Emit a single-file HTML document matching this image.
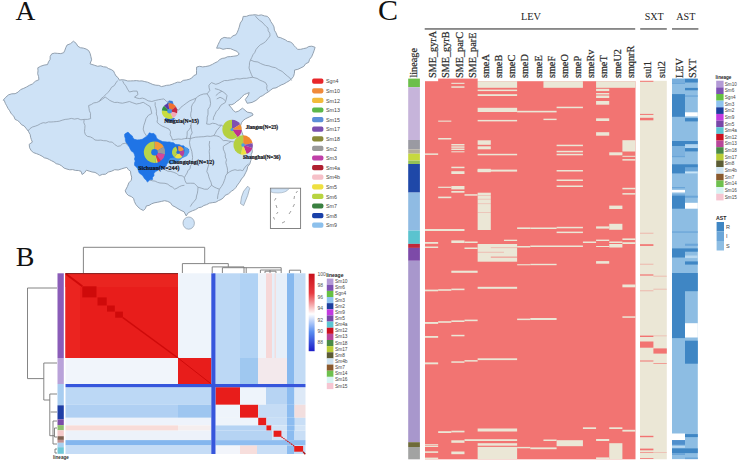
<!DOCTYPE html>
<html><head><meta charset="utf-8"><style>
html,body{margin:0;padding:0;background:#fff;width:738px;height:463px;overflow:hidden}
svg{display:block}
</style></head><body>
<svg width="738" height="463" viewBox="0 0 738 463">
<rect width="738" height="463" fill="#fff"/>
<g id="a">
<polygon points="3.2,100.2 5.7,97.3 8.6,94.8 11.8,93.8 15.1,93.7 18.1,92.1 20.6,89.6 23.8,88.3 26.7,86.9 29.4,85.3 32.4,84.0 35.3,81.3 38.9,79.7 38.6,76.7 37.7,73.8 38.0,70.8 37.8,67.8 40.8,66.2 44.1,65.1 47.5,64.6 48.5,61.9 50.1,59.4 50.2,56.3 51.8,53.8 54.7,53.1 57.8,53.4 60.8,53.6 63.7,52.7 64.9,50.2 65.8,47.6 67.0,45.1 70.5,43.7 73.4,41.2 76.1,43.3 77.8,46.2 80.3,47.7 83.3,48.1 86.1,49.0 88.6,50.5 90.1,53.4 90.9,56.6 91.6,59.8 90.0,63.8 94.9,65.4 97.7,66.3 100.7,65.8 103.4,66.8 106.3,67.1 108.6,68.6 111.3,69.6 113.6,71.1 114.7,73.6 116.0,76.0 118.1,77.7 119.3,80.1 122.2,79.7 125.0,80.1 127.8,81.0 130.7,80.9 133.5,80.8 136.3,80.6 139.2,81.0 142.0,80.9 144.8,81.6 147.5,82.2 150.2,83.3 152.9,84.5 155.8,85.2 158.8,85.4 161.5,86.6 164.1,86.0 166.7,85.3 169.5,85.1 172.1,84.3 174.6,83.3 177.4,82.2 180.6,82.3 183.2,80.4 186.2,80.0 189.2,79.3 191.8,78.0 193.8,75.6 196.5,74.4 196.5,70.7 196.6,67.1 199.6,66.3 202.7,66.9 205.8,66.5 209.2,65.8 212.3,64.4 214.9,62.9 217.6,61.6 219.8,59.5 222.2,58.4 225.0,58.0 227.4,56.8 230.6,56.6 233.9,56.2 237.1,55.7 239.2,54.1 237.1,51.4 233.8,50.1 230.6,48.7 226.8,48.5 223.0,49.3 219.9,48.1 216.6,48.2 218.2,44.4 219.5,41.7 220.9,39.0 224.1,37.4 227.3,37.9 230.6,38.0 233.0,35.8 236.0,34.7 237.3,32.3 238.3,29.8 239.2,27.2 240.3,23.0 242.4,20.0 243.2,16.4 246.3,16.4 249.2,15.3 252.3,15.0 255.3,14.7 258.3,15.4 261.4,14.9 264.4,15.9 267.4,16.4 269.5,18.7 270.8,21.6 272.6,24.2 274.0,26.9 274.4,30.2 276.0,32.8 277.7,37.1 280.4,37.6 282.8,38.7 285.3,39.8 287.5,41.4 290.2,41.9 292.5,43.4 294.0,45.6 295.9,47.6 297.8,49.4 300.7,49.3 303.5,48.6 306.3,48.0 308.9,46.5 311.8,46.2 315.1,47.3 314.1,50.6 312.9,53.8 311.6,56.8 309.6,59.3 308.6,62.4 305.7,63.7 303.8,66.4 301.0,67.8 297.9,69.3 294.6,70.0 294.4,73.3 293.5,76.4 291.6,78.9 289.2,80.8 286.5,82.4 283.8,84.0 281.1,85.0 278.5,86.5 276.0,87.9 273.0,88.3 270.5,90.2 268.0,92.1 265.3,93.7 262.8,95.6 260.2,96.7 258.1,98.6 256.0,100.4 252.1,102.4 247.2,103.3 245.3,99.5 248.2,95.6 249.2,92.6 246.7,93.6 244.3,94.6 241.8,96.9 239.5,99.5 236.9,101.2 234.6,103.3 231.9,104.7 228.8,104.8 231.7,108.2 233.3,110.5 235.6,112.1 238.5,111.1 242.4,108.2 243.8,109.2 247.2,112.1 252.1,113.1 253.1,115.0 249.2,117.0 245.3,118.9 243.1,120.6 241.4,122.8 240.7,125.4 240.9,129.3 242.2,132.9 243.3,136.1 245.2,139.0 247.6,140.9 249.8,142.9 252.0,145.0 252.0,149.0 252.3,151.9 251.2,154.7 251.7,157.7 250.8,160.5 249.8,163.9 247.7,166.7 247.0,169.9 245.6,172.8 243.9,176.2 241.5,179.0 239.6,182.2 237.4,185.1 235.8,187.6 233.8,189.7 231.3,191.3 228.5,193.8 225.1,195.4 223.4,197.8 221.0,199.5 218.3,200.7 215.8,202.2 212.8,202.6 209.6,203.1 206.7,204.6 203.9,205.5 201.4,207.1 198.5,207.7 195.6,209.6 192.3,210.8 188.2,212.8 186.2,215.9 184.1,211.8 181.0,210.4 178.0,208.7 175.1,206.9 172.3,205.5 170.5,202.8 167.7,201.4 164.6,200.7 161.5,201.4 157.8,202.2 154.0,202.9 151.5,203.9 149.1,205.4 146.4,205.9 145.4,208.5 143.4,210.5 140.4,209.0 137.9,206.9 135.8,204.4 134.4,201.5 133.6,198.4 131.2,196.5 128.3,195.4 126.4,193.4 125.2,190.8 127.5,186.3 128.8,182.9 131.3,180.2 131.7,177.1 130.8,174.2 130.5,171.2 128.3,169.6 126.8,167.4 124.1,168.1 121.5,168.9 118.2,170.0 114.7,169.7 111.6,171.2 108.3,172.1 105.6,174.2 102.4,174.4 99.4,175.6 97.4,173.8 95.0,172.4 92.1,172.0 89.2,171.1 86.4,170.2 84.6,172.7 82.1,174.5 81.0,171.3 78.3,170.5 75.4,170.4 72.7,169.6 69.8,169.8 67.0,169.1 64.1,168.1 61.8,166.0 59.2,164.4 56.2,163.7 54.1,162.0 51.7,160.8 49.4,159.6 47.0,158.4 44.3,157.8 42.1,156.2 39.4,154.8 36.6,153.7 33.7,152.7 31.3,150.8 29.6,147.8 29.2,144.3 32.4,142.1 31.4,139.7 30.6,137.2 30.2,134.6 28.3,131.2 25.9,128.1 24.1,125.9 21.5,124.7 19.8,122.4 17.7,120.6 15.1,119.4 13.8,116.2 11.3,113.8 9.7,110.8 8.0,108.4 6.7,105.8 5.3,103.3 4.3,100.5 3.2,100.2" fill="#cee2f6" stroke="#8e9cab" stroke-width="0.95" stroke-linejoin="round"/>
<polygon points="124.7,134.1 128.0,132.1 130.6,134.7 132.3,135.9 133.0,137.9 134.5,139.3 137.1,139.9 139.6,139.8 142.2,139.3 144.1,138.0 146.1,136.7 147.9,134.9 149.4,132.8 151.6,133.6 153.9,133.4 155.8,135.4 156.5,138.0 158.3,139.5 160.4,140.6 162.6,141.6 164.9,141.7 167.2,142.0 169.5,141.9 171.5,142.5 173.6,142.7 175.2,144.3 177.3,144.5 179.5,144.7 181.5,145.8 183.7,145.8 185.0,147.7 187.3,148.2 188.9,149.6 188.3,152.9 186.1,154.0 183.7,154.8 181.4,155.5 179.9,157.4 177.2,157.5 174.8,158.8 172.1,158.7 169.5,161.3 166.9,163.9 166.1,166.2 164.3,167.8 162.3,169.2 159.7,168.9 157.8,170.4 155.5,171.6 153.9,173.6 154.0,175.7 152.5,177.4 152.6,179.5 149.7,180.1 147.4,182.1 146.3,180.2 144.6,178.8 143.5,176.9 142.3,175.2 140.4,174.0 139.0,172.5 138.3,170.4 137.6,168.2 136.0,166.8 134.5,165.2 134.5,163.1 135.2,161.0 134.4,159.0 135.1,156.9 134.5,154.8 133.6,152.6 131.5,151.2 130.3,149.2 129.3,147.0 127.7,145.0 126.3,142.9 125.4,140.6 125.3,138.4 124.6,136.3 124.7,134.1" fill="#1f74e6" stroke="#1f74e6" stroke-width="0.6"/>
<polygon points="183.8,146.1 187.8,148.6 189.5,151.8 187,155.9 182.2,158.3 177.3,162.4 170.8,164.5 167.5,162.4 170,158.3 174,157.5 180.5,156.7 183.8,154.3 184.6,150.2" fill="#4b98e6"/>
<polygon points="166.5,104 169,100.5 172.5,101 173.5,104" fill="#3a78d8"/><polygon points="165,118 175,118 173,121.5 166,121.5" fill="#3a78d8"/>
<polyline points="117.7,80.5 115.9,82.9 114.3,85.6 111.5,87.3 110.0,90.0 108.0,92.4 105.8,94.6 103.6,96.7 101.1,98.7 99.4,101.3 96.7,102.5 93.8,102.9 91.3,104.5 88.6,105.6 89.0,108.2 89.4,110.8 90.5,113.3 90.4,116.0 90.7,118.6 87.5,119.4 84.2,119.4 80.9,119.8 77.8,118.5 74.5,119.1 71.3,118.4 68.3,119.1 65.2,119.4 62.2,120.2 59.3,121.2 56.2,121.6 53.6,121.8 51.0,122.0 48.4,121.9 45.8,123.0 43.2,122.7 40.5,123.7 37.9,125.2 35.2,126.2 32.4,127.0 29.9,128.7 28.0,131.0" fill="none" stroke="#8e9cab" stroke-width="0.8" stroke-linejoin="round"/>
<polyline points="99.4,101.3 102.3,99.2 105.2,97.1 107.5,98.6 109.6,100.3 112.1,101.5 114.6,102.5 117.3,102.3 119.9,102.9 122.5,103.2 126.0,102.4 129.4,101.5 132.8,102.8 136.3,104.0 139.8,103.4 143.2,102.3 145.5,103.7 147.8,105.2 150.1,106.6 151.0,110.0 151.8,113.5 148.4,115.3 146.1,118.4 145.0,122.0 143.8,125.5 143.2,129.1 144.4,132.8 146.6,136.0" fill="none" stroke="#8e9cab" stroke-width="0.8" stroke-linejoin="round"/>
<polyline points="84.2,119.4 83.8,122.5 85.0,125.5 84.8,128.5 84.5,131.6 85.3,134.6 87.5,136.4 90.4,136.9 92.8,138.2 95.0,140.0 97.9,140.3 100.8,140.1 103.7,140.7 106.6,140.8 109.4,142.0 112.3,142.1 114.8,144.6 117.7,146.4 120.4,145.8 122.6,143.8 125.3,143.2 127.8,144.6" fill="none" stroke="#8e9cab" stroke-width="0.8" stroke-linejoin="round"/>
<polyline points="122.5,80.7 123.9,83.5 125.9,85.9 127.5,89.1 129.4,92.0 133.2,91.1 137.1,91.1 138.0,94.5 134.5,97.1 137.0,98.1 139.6,98.6 142.4,98.1 144.9,98.9 148.1,100.8 151.8,101.5 155.2,100.5 158.7,99.7 161.3,99.3 163.9,98.9 166.6,101.5 170.0,103.0 172.2,105.8 175.0,108.0 178.6,110.2 180.9,107.3 183.8,105.1 186.8,102.8 189.9,100.7 192.9,99.5 195.9,98.2 197.9,96.5 200.2,95.1 203.6,94.0 207.2,93.8 209.8,90.4 209.1,87.8 208.9,85.2 211.5,82.6 215.8,84.3 219.0,83.3 221.9,81.7 224.5,80.5 227.3,80.6 230.0,80.0 233.3,79.6 236.6,78.7 240.0,79.0 243.1,78.3 246.4,78.3 249.5,77.7 252.7,77.3" fill="none" stroke="#8e9cab" stroke-width="0.8" stroke-linejoin="round"/>
<polyline points="195.9,98.2 194.7,101.5 192.5,104.2 191.4,107.1 191.6,110.2 190.8,113.2 190.7,116.3 192.5,120.0 191.2,123.0 191.1,126.3 189.6,129.2 187.2,131.5 187.1,135.3 186.4,139.0" fill="none" stroke="#8e9cab" stroke-width="0.8" stroke-linejoin="round"/>
<polyline points="207.2,93.8 209.8,98.2 210.6,103.3 209.9,106.6 208.0,109.4 208.0,114.6 207.2,117.2 207.2,120.0 206.6,124.0" fill="none" stroke="#8e9cab" stroke-width="0.8" stroke-linejoin="round"/>
<polyline points="214.9,88.6 218.5,89.6 221.9,91.2 224.8,93.0 227.0,95.6 226.3,99.1 225.3,102.5 221.0,105.1 218.4,109.4 216.2,111.7 214.9,114.6 213.6,117.2 213.2,120.0" fill="none" stroke="#8e9cab" stroke-width="0.8" stroke-linejoin="round"/>
<polyline points="215.8,95.6 218.7,93.1 221.9,91.2" fill="none" stroke="#8e9cab" stroke-width="0.8" stroke-linejoin="round"/>
<polyline points="216.7,99.0 220.0,97.3 222.9,98.6 225.3,100.7" fill="none" stroke="#8e9cab" stroke-width="0.8" stroke-linejoin="round"/>
<polyline points="155.2,102.2 155.1,105.3 156.0,108.3 156.5,111.3 156.3,114.0 157.3,116.7 157.5,119.4 157.0,122.2 159.3,124.3 162.0,126.0 165.6,127.5 169.1,129.1 170.5,131.6 170.2,134.7 171.5,137.3 172.5,140.0" fill="none" stroke="#8e9cab" stroke-width="0.8" stroke-linejoin="round"/>
<polyline points="206.6,124.0 209.6,124.3 212.6,123.2 215.7,123.7 218.4,125.2 221.6,125.2 224.1,127.3 227.2,127.8 230.0,128.9" fill="none" stroke="#8e9cab" stroke-width="0.8" stroke-linejoin="round"/>
<polyline points="190.3,125.0 191.2,127.5 191.5,130.2 192.2,132.8 190.7,135.5 190.3,138.6" fill="none" stroke="#8e9cab" stroke-width="0.8" stroke-linejoin="round"/>
<polyline points="172.5,140.0 175.4,139.4 178.4,139.0 181.4,139.3 184.3,138.7 187.3,138.3 190.3,138.6 193.0,137.8 195.7,137.2 198.4,137.0 201.1,136.8 203.9,136.7 207.1,136.1 210.4,136.4 213.6,135.7 216.5,135.9 219.4,136.7 221.3,138.7 223.3,140.6 226.0,140.5 228.5,141.0 231.1,141.5 234.1,142.0 236.7,143.4 239.5,144.2 242.0,146.0" fill="none" stroke="#8e9cab" stroke-width="0.8" stroke-linejoin="round"/>
<polyline points="213.6,135.7 215.3,133.4 216.5,130.8 219.0,127.9 221.4,125.0" fill="none" stroke="#8e9cab" stroke-width="0.8" stroke-linejoin="round"/>
<polyline points="192.2,154.2 192.6,157.4 192.2,160.7 192.2,163.9 190.4,165.9 190.1,168.7 187.9,170.5 187.1,173.0 185.7,175.2 184.4,177.5 185.0,180.6 186.4,183.3 190.3,183.2 194.2,183.3 196.1,185.3 198.0,187.2 201.2,188.1 204.4,189.2 207.8,189.2 209.6,187.1 211.7,185.3 214.1,187.0 216.7,188.2 219.4,189.2 221.5,186.4 223.3,183.3 224.2,180.8 225.1,178.4 225.6,175.8 227.2,173.6 229.6,171.8 232.1,170.5 235.0,169.7 237.6,170.4 240.2,170.0 242.8,170.7 244.4,168.1 246.2,165.8 248.6,163.9" fill="none" stroke="#8e9cab" stroke-width="0.8" stroke-linejoin="round"/>
<polyline points="209.7,141.0 209.2,144.7 209.7,148.3 209.2,151.5 209.5,154.8 209.7,158.0 209.4,160.8 208.9,163.6 208.2,166.3 207.4,169.0 206.8,171.7 208.2,174.1 208.8,176.8 209.7,179.4 211.0,182.2 211.7,185.3" fill="none" stroke="#8e9cab" stroke-width="0.8" stroke-linejoin="round"/>
<polyline points="227.2,173.6 227.6,170.8 227.3,168.0 226.5,165.3 225.8,162.5 226.5,159.7 225.3,157.0 225.3,154.2 224.4,151.6 223.3,149.2 223.3,146.4 225.8,144.6 228.5,143.1 231.1,141.5" fill="none" stroke="#8e9cab" stroke-width="0.8" stroke-linejoin="round"/>
<polyline points="150.0,180.0 152.5,180.8 155.1,181.1 157.5,182.3 160.0,183.0 165.0,183.3 167.8,184.2 170.0,186.0 172.6,187.2 174.7,189.2 177.1,188.1 179.3,186.7 181.7,185.7 184.4,185.3" fill="none" stroke="#8e9cab" stroke-width="0.8" stroke-linejoin="round"/>
<polyline points="198.0,187.2 197.8,190.2 197.4,193.1 196.5,196.0 196.1,198.9 194.1,201.4 192.0,203.8 190.3,206.6" fill="none" stroke="#8e9cab" stroke-width="0.8" stroke-linejoin="round"/>
<polyline points="219.4,189.2 218.6,192.4 217.8,195.6 217.5,198.9" fill="none" stroke="#8e9cab" stroke-width="0.8" stroke-linejoin="round"/>
<polyline points="165.0,169.7 167.8,171.2 170.9,171.5 173.9,172.4 176.7,173.6 179.0,175.5 182.1,175.8 184.4,177.5" fill="none" stroke="#8e9cab" stroke-width="0.8" stroke-linejoin="round"/>
<polyline points="192.2,154.2 191.8,151.4 190.9,148.7 190.0,146.0 189.5,142.3 190.3,138.6" fill="none" stroke="#8e9cab" stroke-width="0.8" stroke-linejoin="round"/>
<polyline points="255.0,15.5 257.0,18.0 259.3,20.2 262.0,22.0 263.9,24.1 265.8,26.2 268.0,28.0 268.2,30.8 269.8,33.2 270.0,36.0 267.8,38.8 265.6,41.6 263.1,43.4 260.3,44.8 258.0,47.0 256.0,49.5 254.8,52.4 253.0,54.7 251.8,57.4 250.5,60.0" fill="none" stroke="#8e9cab" stroke-width="0.8" stroke-linejoin="round"/>
<polyline points="250.5,60.0 254.1,61.5 258.0,62.0 260.4,63.4 263.0,64.5 265.6,65.4 268.9,65.8 272.0,67.0 275.5,67.7 278.6,69.7 282.1,71.4 285.0,74.0 287.3,76.0 289.8,77.9 291.6,80.5" fill="none" stroke="#8e9cab" stroke-width="0.8" stroke-linejoin="round"/>
<polyline points="250.5,60.0 249.5,62.6 249.4,65.3 249.0,68.0 250.1,71.2 251.3,74.3 252.7,77.3" fill="none" stroke="#8e9cab" stroke-width="0.8" stroke-linejoin="round"/>
<polyline points="252.7,77.3 257.0,78.4 259.8,80.1 262.7,81.3 265.6,82.7 267.0,85.4 266.7,88.5 267.8,91.3" fill="none" stroke="#8e9cab" stroke-width="0.8" stroke-linejoin="round"/>
<ellipse cx="188.7" cy="223.1" rx="5.7" ry="6.1" fill="#cee2f6" stroke="#8e9cab" stroke-width="0.7"/>
<polygon points="243.6,191.3 247.7,186.2 249.7,188.2 247.7,195.4 243.6,205.6 240.5,203.6 241.5,197" fill="#cee2f6" stroke="#8e9cab" stroke-width="0.7"/>
<rect x="270.4" y="188.2" width="30.2" height="40.3" fill="#fff" stroke="#777" stroke-width="0.9"/>
<path d="M270.9 188.7 H289 Q286 193 278 193 Q273 193 270.9 192 Z" fill="#cee2f6" stroke="#8e9cab" stroke-width="0.5"/>
<path d="M276 198 l-1.5 2.5" stroke="#888" stroke-width="0.8" fill="none"/>
<path d="M276 205 l1 3" stroke="#888" stroke-width="0.8" fill="none"/>
<path d="M278 212 l-1.5 2" stroke="#888" stroke-width="0.8" fill="none"/>
<path d="M273.5 217 l1 2.5" stroke="#888" stroke-width="0.8" fill="none"/>
<path d="M282 223 l3 -1.5" stroke="#888" stroke-width="0.8" fill="none"/>
<path d="M289 214 l2 -3" stroke="#888" stroke-width="0.8" fill="none"/>
<path d="M293 207 l1.5 -3" stroke="#888" stroke-width="0.8" fill="none"/>
<path d="M294 199 l0.5 -3" stroke="#888" stroke-width="0.8" fill="none"/>
<path d="M296 193 l1.5 -2" stroke="#888" stroke-width="0.8" fill="none"/>
<path d="M154.5 152.2 L154.50 141.50 A10.7 10.7 0 0 1 163.88 147.05 Z" fill="#f39a3a"/>
<path d="M154.5 152.2 L163.88 147.05 A10.7 10.7 0 0 1 165.01 154.20 Z" fill="#9a9a9a"/>
<path d="M154.5 152.2 L165.01 154.20 A10.7 10.7 0 0 1 160.79 160.86 Z" fill="#d4489c"/>
<path d="M154.5 152.2 L160.79 160.86 A10.7 10.7 0 0 1 157.81 162.38 Z" fill="#e83040"/>
<path d="M154.5 152.2 L157.81 162.38 A10.7 10.7 0 0 1 155.84 162.82 Z" fill="#f0e040"/>
<path d="M154.5 152.2 L155.84 162.82 A10.7 10.7 0 1 1 154.50 141.50 Z" fill="#b8d44a"/>
<circle cx="154.5" cy="152.2" r="3.3" fill="#1f74e6"/>
<path d="M178.1 152.2 L178.10 146.10 A6.1 6.1 0 0 1 183.90 150.31 Z" fill="#f39a3a"/>
<path d="M178.1 152.2 L183.90 150.31 A6.1 6.1 0 0 1 182.28 156.65 Z" fill="#b8409c"/>
<path d="M178.1 152.2 L182.28 156.65 A6.1 6.1 0 0 1 174.51 157.14 Z" fill="#f0e040"/>
<path d="M178.1 152.2 L174.51 157.14 A6.1 6.1 0 0 1 176.21 146.40 Z" fill="#b8d44a"/>
<path d="M178.1 152.2 L176.21 146.40 A6.1 6.1 0 0 1 178.10 146.10 Z" fill="#3060c0"/>
<circle cx="178.1" cy="152.2" r="1.7" fill="#2a70d8"/>
<path d="M169.6 111.2 L168.25 103.52 A7.8 7.8 0 0 1 175.99 106.73 Z" fill="#f07030"/>
<path d="M169.6 111.2 L175.99 106.73 A7.8 7.8 0 0 1 177.13 113.22 Z" fill="#c42840"/>
<path d="M169.6 111.2 L177.13 113.22 A7.8 7.8 0 0 1 172.90 118.27 Z" fill="#f2a8b8"/>
<path d="M169.6 111.2 L172.90 118.27 A7.8 7.8 0 0 1 161.83 110.52 Z" fill="#c8dc40"/>
<path d="M169.6 111.2 L161.83 110.52 A7.8 7.8 0 0 1 164.08 105.68 Z" fill="#309040"/>
<path d="M169.6 111.2 L164.08 105.68 A7.8 7.8 0 0 1 168.25 103.52 Z" fill="#5a3aa8"/>
<circle cx="169.6" cy="111.2" r="2.4" fill="#4a90e0"/>
<path d="M232 129.5 L232.00 119.80 A9.7 9.7 0 0 1 240.19 124.30 Z" fill="#8050b0"/>
<path d="M232 129.5 L240.19 124.30 A9.7 9.7 0 0 1 241.68 130.11 Z" fill="#f0902f"/>
<path d="M232 129.5 L241.68 130.11 A9.7 9.7 0 0 1 237.70 137.35 Z" fill="#c03090"/>
<path d="M232 129.5 L237.70 137.35 A9.7 9.7 0 1 1 232.00 119.80 Z" fill="#b5d040"/>
<circle cx="232" cy="129.5" r="1.5" fill="#4aa0e0"/>
<path d="M243.1 145 L243.10 135.30 A9.7 9.7 0 0 1 252.63 143.18 Z" fill="#f08a30"/>
<path d="M243.1 145 L252.63 143.18 A9.7 9.7 0 0 1 252.33 148.00 Z" fill="#8050b0"/>
<path d="M243.1 145 L252.33 148.00 A9.7 9.7 0 0 1 246.67 154.02 Z" fill="#c03090"/>
<path d="M243.1 145 L246.67 154.02 A9.7 9.7 0 0 1 240.69 154.40 Z" fill="#f0e040"/>
<path d="M243.1 145 L240.69 154.40 A9.7 9.7 0 0 1 243.10 135.30 Z" fill="#b5d040"/>
<circle cx="243.1" cy="145" r="1.8" fill="#4aa0e0"/>
<text x="164.3" y="123" font-size="5.5" font-family="Liberation Serif" font-weight="bold" fill="#141420" stroke="#141420" stroke-width="0.22">Ningxia(N=15)</text>
<text x="138.2" y="169.9" font-size="6.0" font-family="Liberation Serif" font-weight="bold" fill="#141420" stroke="#141420" stroke-width="0.22">Sichuan(N=244)</text>
<text x="168.9" y="164" font-size="5.9" font-family="Liberation Serif" font-weight="bold" fill="#141420" stroke="#141420" stroke-width="0.22">Chongqing(N=12)</text>
<text x="245.7" y="128.8" font-size="5.2" font-family="Liberation Serif" font-weight="bold" fill="#141420" stroke="#141420" stroke-width="0.22">Jiangsu(N=23)</text>
<text x="243.1" y="159.2" font-size="5.4" font-family="Liberation Serif" font-weight="bold" fill="#141420" stroke="#141420" stroke-width="0.22">Shanghai(N=36)</text>
<rect x="312.1" y="78.60" width="11.3" height="5.2" rx="1.8" fill="#e8262a"/>
<text x="326" y="83.30" font-size="5.3" font-family="Liberation Sans" fill="#444">Sgn4</text>
<rect x="312.1" y="88.20" width="11.3" height="5.2" rx="1.8" fill="#f08a3a"/>
<text x="326" y="92.90" font-size="5.3" font-family="Liberation Sans" fill="#444">Sm10</text>
<rect x="312.1" y="97.80" width="11.3" height="5.2" rx="1.8" fill="#f2bb3a"/>
<text x="326" y="102.50" font-size="5.3" font-family="Liberation Sans" fill="#444">Sm12</text>
<rect x="312.1" y="107.40" width="11.3" height="5.2" rx="1.8" fill="#5cb84a"/>
<text x="326" y="112.10" font-size="5.3" font-family="Liberation Sans" fill="#444">Sm13</text>
<rect x="312.1" y="117.00" width="11.3" height="5.2" rx="1.8" fill="#5b8fd8"/>
<text x="326" y="121.70" font-size="5.3" font-family="Liberation Sans" fill="#444">Sm15</text>
<rect x="312.1" y="126.60" width="11.3" height="5.2" rx="1.8" fill="#7a4fb0"/>
<text x="326" y="131.30" font-size="5.3" font-family="Liberation Sans" fill="#444">Sm17</text>
<rect x="312.1" y="136.20" width="11.3" height="5.2" rx="1.8" fill="#8a8a3a"/>
<text x="326" y="140.90" font-size="5.3" font-family="Liberation Sans" fill="#444">Sm18</text>
<rect x="312.1" y="145.80" width="11.3" height="5.2" rx="1.8" fill="#9a9a9a"/>
<text x="326" y="150.50" font-size="5.3" font-family="Liberation Sans" fill="#444">Sm2</text>
<rect x="312.1" y="155.40" width="11.3" height="5.2" rx="1.8" fill="#c040a8"/>
<text x="326" y="160.10" font-size="5.3" font-family="Liberation Sans" fill="#444">Sm3</text>
<rect x="312.1" y="165.00" width="11.3" height="5.2" rx="1.8" fill="#b02030"/>
<text x="326" y="169.70" font-size="5.3" font-family="Liberation Sans" fill="#444">Sm4a</text>
<rect x="312.1" y="174.60" width="11.3" height="5.2" rx="1.8" fill="#f6c0c8"/>
<text x="326" y="179.30" font-size="5.3" font-family="Liberation Sans" fill="#444">Sm4b</text>
<rect x="312.1" y="184.20" width="11.3" height="5.2" rx="1.8" fill="#eee040"/>
<text x="326" y="188.90" font-size="5.3" font-family="Liberation Sans" fill="#444">Sm5</text>
<rect x="312.1" y="193.80" width="11.3" height="5.2" rx="1.8" fill="#b8d440"/>
<text x="326" y="198.50" font-size="5.3" font-family="Liberation Sans" fill="#444">Sm6</text>
<rect x="312.1" y="203.40" width="11.3" height="5.2" rx="1.8" fill="#3a8040"/>
<text x="326" y="208.10" font-size="5.3" font-family="Liberation Sans" fill="#444">Sm7</text>
<rect x="312.1" y="213.00" width="11.3" height="5.2" rx="1.8" fill="#1a40a8"/>
<text x="326" y="217.70" font-size="5.3" font-family="Liberation Sans" fill="#444">Sm8</text>
<rect x="312.1" y="222.60" width="11.3" height="5.2" rx="1.8" fill="#8cc0ec"/>
<text x="326" y="227.30" font-size="5.3" font-family="Liberation Sans" fill="#444">Sm9</text>
<text x="15.5" y="19.5" font-size="27.5" font-family="Liberation Serif" fill="#111">A</text>
</g>
<g id="b">
<rect x="65.50" y="273.30" width="112.50" height="84.70" fill="#e81d1b" />
<rect x="178.00" y="273.30" width="33.30" height="84.70" fill="#eef4fb" />
<rect x="215.50" y="273.30" width="24.50" height="84.70" fill="#bcd8f5" />
<rect x="240.00" y="273.30" width="18.00" height="84.70" fill="#b0d2f4" />
<rect x="258.00" y="273.30" width="8.00" height="84.70" fill="#eff4fa" />
<rect x="266.00" y="273.30" width="6.00" height="84.70" fill="#f6d8d8" />
<rect x="272.00" y="273.30" width="15.00" height="84.70" fill="#e6eff9" />
<rect x="274.50" y="273.30" width="1.50" height="84.70" fill="#f3dede" />
<rect x="287.00" y="273.30" width="7.50" height="84.70" fill="#86b8ee" />
<rect x="294.50" y="273.30" width="11.00" height="84.70" fill="#c2dbf5" />
<rect x="65.50" y="273.30" width="112.50" height="13.70" fill="#ea2520" />
<rect x="65.50" y="273.30" width="14.50" height="84.70" fill="#eb2420" />
<rect x="82.30" y="286.30" width="14.20" height="11.10" fill="#cf0a0a" />
<rect x="97.50" y="297.40" width="9.20" height="8.10" fill="#cf0a0a" />
<rect x="107.00" y="305.50" width="7.80" height="6.10" fill="#cf0a0a" />
<rect x="115.20" y="311.60" width="7.70" height="6.10" fill="#cf0a0a" />
<line x1="66" y1="274" x2="82.3" y2="286.3" stroke="#cf0a0a" stroke-width="2"/>
<line x1="122.9" y1="317.7" x2="178" y2="358" stroke="#cf0a0a" stroke-width="1.5"/>
<rect x="65.50" y="358.00" width="112.50" height="26.00" fill="#f1f5fb" />
<rect x="178.00" y="358.00" width="33.30" height="26.00" fill="#e81d1b" />
<rect x="215.50" y="358.00" width="24.50" height="26.00" fill="#bcd8f5" />
<rect x="240.00" y="358.00" width="18.00" height="26.00" fill="#9fc8f0" />
<rect x="258.00" y="358.00" width="29.00" height="26.00" fill="#f3e9ec" />
<rect x="287.00" y="358.00" width="7.50" height="26.00" fill="#86b8ee" />
<rect x="294.50" y="358.00" width="11.00" height="26.00" fill="#c2dbf5" />
<line x1="178" y1="358" x2="211.3" y2="384" stroke="#cf0a0a" stroke-width="1"/>
<rect x="65.50" y="387.20" width="145.80" height="17.60" fill="#bcd8f5" />
<rect x="215.50" y="387.20" width="24.50" height="17.60" fill="#e81d1b" />
<rect x="240.00" y="387.20" width="26.00" height="17.60" fill="#eef4fb" />
<rect x="266.00" y="387.20" width="21.00" height="17.60" fill="#b7d4f3" />
<rect x="287.00" y="387.20" width="7.50" height="17.60" fill="#8cbcf0" />
<rect x="294.50" y="387.20" width="11.00" height="17.60" fill="#dde9f7" />
<rect x="65.50" y="404.80" width="112.50" height="13.00" fill="#b0d0f3" />
<rect x="178.00" y="404.80" width="33.30" height="13.00" fill="#9ec6f0" />
<rect x="215.50" y="404.80" width="24.50" height="13.00" fill="#eef4fb" />
<rect x="240.00" y="404.80" width="18.20" height="13.00" fill="#e81d1b" />
<rect x="258.20" y="404.80" width="28.80" height="13.00" fill="#c5dcf5" />
<rect x="287.00" y="404.80" width="7.50" height="13.00" fill="#8cbcf0" />
<rect x="294.50" y="404.80" width="11.00" height="13.00" fill="#f2dede" />
<rect x="65.50" y="417.80" width="145.80" height="7.60" fill="#eef3fb" />
<rect x="215.50" y="417.80" width="42.70" height="7.60" fill="#eef4fb" />
<rect x="258.20" y="417.80" width="8.20" height="7.60" fill="#e81d1b" />
<rect x="266.40" y="417.80" width="39.10" height="7.60" fill="#c8def6" />
<rect x="287.00" y="417.80" width="7.50" height="7.60" fill="#8cbcf0" />
<rect x="65.50" y="425.40" width="112.50" height="5.20" fill="#f8dcd8" />
<rect x="178.00" y="425.40" width="33.30" height="5.20" fill="#f5eeee" />
<rect x="215.50" y="425.40" width="50.90" height="5.20" fill="#b5d3f3" />
<rect x="266.40" y="425.40" width="5.10" height="5.20" fill="#e81d1b" />
<rect x="271.50" y="425.40" width="34.00" height="5.20" fill="#d2e4f7" />
<rect x="287.00" y="425.40" width="7.50" height="5.20" fill="#8cbcf0" />
<rect x="65.50" y="430.60" width="145.80" height="9.50" fill="#edf2fa" />
<rect x="215.50" y="430.60" width="56.90" height="9.50" fill="#b5d3f3" />
<rect x="272.40" y="430.60" width="14.60" height="9.50" fill="#d2e4f7" />
<rect x="287.00" y="430.60" width="7.50" height="9.50" fill="#8cbcf0" />
<rect x="294.50" y="430.60" width="11.00" height="9.50" fill="#c8def6" />
<rect x="273.60" y="430.70" width="7.80" height="6.10" fill="#e81d1b" />
<rect x="65.50" y="440.10" width="145.80" height="5.40" fill="#84b6ee" />
<rect x="215.50" y="440.10" width="90.00" height="5.40" fill="#8fbdf0" />
<rect x="65.50" y="445.50" width="145.80" height="8.50" fill="#c5dcf6" />
<rect x="215.50" y="445.50" width="24.50" height="8.50" fill="#f2f5fb" />
<rect x="240.00" y="445.50" width="17.00" height="8.50" fill="#f7dedc" />
<rect x="257.00" y="445.50" width="30.00" height="8.50" fill="#c9def6" />
<rect x="287.00" y="445.50" width="7.00" height="8.50" fill="#8cbcf0" />
<rect x="294.00" y="445.50" width="11.50" height="8.50" fill="#c5dcf6" />
<rect x="294.20" y="446.00" width="8.90" height="5.70" fill="#e81d1b" />
<line x1="281.4" y1="436.8" x2="294.2" y2="446" stroke="#d81010" stroke-width="1.1" stroke-dasharray="1.6 0.8"/>
<line x1="303.1" y1="451.7" x2="305.3" y2="454.2" stroke="#b01010" stroke-width="1.3"/>
<rect x="211.30" y="273.30" width="4.20" height="180.70" fill="#3656dc" />
<rect x="65.50" y="384.00" width="240.00" height="3.20" fill="#3656dc" />
<rect x="57.50" y="273.30" width="6.30" height="84.70" fill="#8a5cb8" />
<rect x="57.50" y="358.00" width="6.30" height="26.00" fill="#b9a2d9" />
<rect x="57.50" y="384.00" width="6.30" height="21.30" fill="#a8cdf0" />
<rect x="57.50" y="405.30" width="6.30" height="14.00" fill="#1f3fa6" />
<rect x="57.50" y="419.30" width="6.30" height="5.80" fill="#7a4ca8" />
<rect x="57.50" y="425.10" width="6.30" height="5.20" fill="#8fc070" />
<rect x="57.50" y="430.30" width="6.30" height="5.90" fill="#f3c8c8" />
<rect x="57.50" y="436.20" width="6.30" height="3.70" fill="#7f6050" />
<rect x="57.50" y="439.90" width="6.30" height="2.90" fill="#c09090" />
<rect x="57.50" y="442.80" width="6.30" height="4.40" fill="#a8d0f0" />
<rect x="57.50" y="447.20" width="6.30" height="6.60" fill="#70c8d8" />
<text x="53" y="459" font-size="4.6" font-weight="bold" font-family="Liberation Sans" fill="#333">lineage</text>
<path d="M83.4 273 V247.3 H204.7 V263.6" stroke="#777" stroke-width="0.9" fill="none"/>
<path d="M182.4 273 V263.6 H228.3 V266.9" stroke="#777" stroke-width="0.9" fill="none"/>
<path d="M212.2 273 V266.9 H244 V273" stroke="#777" stroke-width="0.9" fill="none"/>
<path d="M222.4 273 V267.7 H281.2 V270" stroke="#777" stroke-width="0.9" fill="none"/>
<path d="M246.2 267.7 V273" stroke="#777" stroke-width="0.9" fill="none"/>
<path d="M260.4 273 V270 H281.2" stroke="#777" stroke-width="0.9" fill="none"/>
<path d="M270 270 V273" stroke="#777" stroke-width="0.9" fill="none"/>
<path d="M289.4 273 V270.2 H300.6 V273" stroke="#777" stroke-width="0.9" fill="none"/>
<path d="M281.2 270 V273" stroke="#777" stroke-width="0.9" fill="none"/>
<path d="M265 273 V271.2 H276 V273" stroke="#777" stroke-width="0.9" fill="none"/>
<path d="M57 288 H27.5 V378.6 H43.8" stroke="#777" stroke-width="0.9" fill="none"/>
<path d="M57 363 H43.8 V400 H49.8" stroke="#777" stroke-width="0.9" fill="none"/>
<path d="M57 394 H49.8 V435.7 H54" stroke="#777" stroke-width="0.9" fill="none"/>
<path d="M57 412 H50.6" stroke="#777" stroke-width="0.9" fill="none"/>
<path d="M57 421 H53 V444 H57" stroke="#777" stroke-width="0.9" fill="none"/>
<path d="M57 428 H54.5 V437 H57" stroke="#777" stroke-width="0.9" fill="none"/>
<path d="M57 449 H55 V453 H57" stroke="#777" stroke-width="0.9" fill="none"/>
<line x1="65.5" y1="273.6" x2="178" y2="273.6" stroke="#6a2020" stroke-width="0.8"/>
<defs><linearGradient id="cb" x1="0" y1="0" x2="0" y2="1"><stop offset="0" stop-color="#c8101c"/><stop offset="0.25" stop-color="#e83a40"/><stop offset="0.52" stop-color="#ffffff"/><stop offset="0.75" stop-color="#5a8ef0"/><stop offset="1" stop-color="#1c1cc8"/></linearGradient></defs>
<rect x="308.70" y="273.70" width="5.90" height="77.50" fill="url(#cb)" />
<text x="317.4" y="275.5" font-size="5" font-family="Liberation Sans" fill="#555">100</text>
<text x="317.4" y="287.2" font-size="5" font-family="Liberation Sans" fill="#555">98</text>
<text x="317.4" y="298.8" font-size="5" font-family="Liberation Sans" fill="#555">96</text>
<text x="317.4" y="309.9" font-size="5" font-family="Liberation Sans" fill="#555">94</text>
<text x="317.4" y="321.6" font-size="5" font-family="Liberation Sans" fill="#555">92</text>
<text x="317.4" y="332.8" font-size="5" font-family="Liberation Sans" fill="#555">90</text>
<text x="317.4" y="344.1" font-size="5" font-family="Liberation Sans" fill="#555">88</text>
<text x="326.2" y="277.3" font-size="5" font-weight="bold" font-family="Liberation Sans" fill="#222">lineage</text>
<rect x="326.80" y="278.60" width="6.60" height="6.14" fill="#b39ad6" />
<text x="335" y="283.20" font-size="4.8" font-family="Liberation Sans" fill="#444">Sm10</text>
<rect x="326.80" y="284.74" width="6.60" height="6.14" fill="#7e52b4" />
<text x="335" y="289.34" font-size="4.8" font-family="Liberation Sans" fill="#444">Sm6</text>
<rect x="326.80" y="290.88" width="6.60" height="6.14" fill="#66c043" />
<text x="335" y="295.48" font-size="4.8" font-family="Liberation Sans" fill="#444">Sgn4</text>
<rect x="326.80" y="297.02" width="6.60" height="6.14" fill="#8fc3ef" />
<text x="335" y="301.62" font-size="4.8" font-family="Liberation Sans" fill="#444">Sm3</text>
<rect x="326.80" y="303.16" width="6.60" height="6.14" fill="#1c3f9e" />
<text x="335" y="307.76" font-size="4.8" font-family="Liberation Sans" fill="#444">Sm2</text>
<rect x="326.80" y="309.30" width="6.60" height="6.14" fill="#c23be0" />
<text x="335" y="313.90" font-size="4.8" font-family="Liberation Sans" fill="#444">Sm9</text>
<rect x="326.80" y="315.44" width="6.60" height="6.14" fill="#7847a8" />
<text x="335" y="320.04" font-size="4.8" font-family="Liberation Sans" fill="#444">Sm5</text>
<rect x="326.80" y="321.58" width="6.60" height="6.14" fill="#5cc5d3" />
<text x="335" y="326.18" font-size="4.8" font-family="Liberation Sans" fill="#444">Sm4a</text>
<rect x="326.80" y="327.72" width="6.60" height="6.14" fill="#cc1020" />
<text x="335" y="332.32" font-size="4.8" font-family="Liberation Sans" fill="#444">Sm12</text>
<rect x="326.80" y="333.86" width="6.60" height="6.14" fill="#b8469a" />
<text x="335" y="338.46" font-size="4.8" font-family="Liberation Sans" fill="#444">Sm13</text>
<rect x="326.80" y="340.00" width="6.60" height="6.14" fill="#4a8a45" />
<text x="335" y="344.60" font-size="4.8" font-family="Liberation Sans" fill="#444">Sm18</text>
<rect x="326.80" y="346.14" width="6.60" height="6.14" fill="#b8cc35" />
<text x="335" y="350.74" font-size="4.8" font-family="Liberation Sans" fill="#444">Sm17</text>
<rect x="326.80" y="352.28" width="6.60" height="6.14" fill="#5c5c35" />
<text x="335" y="356.88" font-size="4.8" font-family="Liberation Sans" fill="#444">Sm8</text>
<rect x="326.80" y="358.42" width="6.60" height="6.14" fill="#cfe4f2" />
<text x="335" y="363.02" font-size="4.8" font-family="Liberation Sans" fill="#444">Sm4b</text>
<rect x="326.80" y="364.56" width="6.60" height="6.14" fill="#8a5a2e" />
<text x="335" y="369.16" font-size="4.8" font-family="Liberation Sans" fill="#444">Sm7</text>
<rect x="326.80" y="370.70" width="6.60" height="6.14" fill="#6ec04e" />
<text x="335" y="375.30" font-size="4.8" font-family="Liberation Sans" fill="#444">Sm14</text>
<rect x="326.80" y="376.84" width="6.60" height="6.14" fill="#d8f4f4" />
<text x="335" y="381.44" font-size="4.8" font-family="Liberation Sans" fill="#444">Sm16</text>
<rect x="326.80" y="382.98" width="6.60" height="6.14" fill="#f6c6d2" />
<text x="335" y="387.58" font-size="4.8" font-family="Liberation Sans" fill="#444">Sm15</text>
<text x="15.7" y="266.2" font-size="28" font-family="Liberation Serif" fill="#111">B</text>
</g>
<g id="c">
<rect x="425.00" y="81.20" width="210.50" height="378.10" fill="#f27472"/>
<rect x="438.16" y="78.60" width="39.48" height="3.60" fill="#f27472"/>
<rect x="477.64" y="81.20" width="39.48" height="6.60" fill="#ebe7d6"/>
<rect x="543.44" y="81.20" width="39.48" height="6.60" fill="#ebe7d6"/>
<rect x="596.08" y="81.20" width="39.48" height="6.60" fill="#ebe7d6"/>
<rect x="451.32" y="82.80" width="13.16" height="1.10" fill="#ebe7d6"/>
<rect x="451.32" y="86.30" width="13.16" height="1.50" fill="#ebe7d6"/>
<rect x="477.64" y="89.60" width="39.48" height="1.50" fill="#ebe7d6"/>
<rect x="477.64" y="94.20" width="39.48" height="1.80" fill="#ebe7d6"/>
<rect x="477.64" y="107.80" width="39.48" height="4.20" fill="#ebe7d6"/>
<rect x="477.64" y="119.90" width="39.48" height="1.50" fill="#ebe7d6"/>
<rect x="517.12" y="110.80" width="39.48" height="1.60" fill="#ebe7d6"/>
<rect x="438.16" y="120.60" width="13.16" height="1.10" fill="#ebe7d6"/>
<rect x="438.16" y="138.00" width="13.16" height="1.50" fill="#ebe7d6"/>
<rect x="451.32" y="144.00" width="13.16" height="1.50" fill="#ebe7d6"/>
<rect x="451.32" y="146.30" width="13.16" height="1.50" fill="#ebe7d6"/>
<rect x="451.32" y="148.50" width="13.16" height="1.50" fill="#ebe7d6"/>
<rect x="451.32" y="151.30" width="13.16" height="1.00" fill="#ebe7d6"/>
<rect x="477.64" y="140.30" width="13.16" height="4.50" fill="#ebe7d6"/>
<rect x="477.64" y="146.30" width="13.16" height="3.00" fill="#ebe7d6"/>
<rect x="596.08" y="88.80" width="13.16" height="2.30" fill="#ebe7d6"/>
<rect x="596.08" y="93.00" width="13.16" height="1.50" fill="#ebe7d6"/>
<rect x="596.08" y="95.50" width="13.16" height="2.50" fill="#ebe7d6"/>
<rect x="596.08" y="101.00" width="13.16" height="3.70" fill="#ebe7d6"/>
<rect x="596.08" y="118.30" width="13.16" height="2.70" fill="#ebe7d6"/>
<rect x="596.08" y="132.20" width="13.16" height="3.50" fill="#ebe7d6"/>
<rect x="556.60" y="106.70" width="26.32" height="1.50" fill="#ebe7d6"/>
<rect x="543.44" y="118.70" width="13.16" height="1.40" fill="#ebe7d6"/>
<rect x="622.40" y="140.20" width="13.16" height="11.30" fill="#ebe7d6"/>
<rect x="556.60" y="144.70" width="26.32" height="1.50" fill="#ebe7d6"/>
<rect x="556.60" y="150.80" width="26.32" height="1.50" fill="#ebe7d6"/>
<rect x="556.60" y="153.80" width="26.32" height="1.50" fill="#ebe7d6"/>
<rect x="556.60" y="170.00" width="26.32" height="1.50" fill="#ebe7d6"/>
<rect x="556.60" y="179.50" width="26.32" height="1.50" fill="#ebe7d6"/>
<rect x="556.60" y="185.50" width="26.32" height="1.50" fill="#ebe7d6"/>
<rect x="425.00" y="153.40" width="13.16" height="1.50" fill="#ebe7d6"/>
<rect x="477.64" y="153.80" width="39.48" height="1.50" fill="#ebe7d6"/>
<rect x="451.32" y="166.70" width="13.16" height="1.50" fill="#ebe7d6"/>
<rect x="451.32" y="171.20" width="13.16" height="2.80" fill="#ebe7d6"/>
<rect x="451.32" y="186.00" width="13.16" height="3.40" fill="#ebe7d6"/>
<rect x="451.32" y="191.00" width="13.16" height="1.70" fill="#ebe7d6"/>
<rect x="477.64" y="169.60" width="39.48" height="2.00" fill="#ebe7d6"/>
<rect x="477.64" y="168.80" width="13.16" height="3.40" fill="#ebe7d6"/>
<rect x="438.16" y="186.70" width="13.16" height="1.20" fill="#ebe7d6"/>
<rect x="438.16" y="196.60" width="13.16" height="1.60" fill="#ebe7d6"/>
<rect x="464.48" y="194.20" width="13.16" height="1.50" fill="#ebe7d6"/>
<rect x="477.64" y="192.70" width="13.16" height="37.30" fill="#ebe7d6"/>
<rect x="622.40" y="155.80" width="13.16" height="1.00" fill="#ebe7d6"/>
<rect x="622.40" y="159.10" width="13.16" height="1.50" fill="#ebe7d6"/>
<rect x="622.40" y="187.80" width="13.16" height="1.50" fill="#ebe7d6"/>
<rect x="622.40" y="193.10" width="13.16" height="1.50" fill="#ebe7d6"/>
<rect x="609.24" y="152.30" width="13.16" height="3.00" fill="#ebe7d6"/>
<rect x="609.24" y="205.60" width="13.16" height="3.40" fill="#ebe7d6"/>
<rect x="425.00" y="229.00" width="39.48" height="2.00" fill="#ebe7d6"/>
<rect x="517.12" y="227.40" width="13.16" height="1.60" fill="#ebe7d6"/>
<rect x="530.28" y="227.50" width="26.32" height="1.50" fill="#ebe7d6"/>
<rect x="556.60" y="226.80" width="26.32" height="1.50" fill="#ebe7d6"/>
<rect x="596.08" y="226.40" width="13.16" height="2.20" fill="#ebe7d6"/>
<rect x="609.24" y="223.80" width="13.16" height="6.00" fill="#ebe7d6"/>
<rect x="556.60" y="231.60" width="26.32" height="1.50" fill="#ebe7d6"/>
<rect x="425.00" y="242.00" width="13.16" height="1.80" fill="#ebe7d6"/>
<rect x="425.00" y="246.50" width="13.16" height="1.50" fill="#ebe7d6"/>
<rect x="451.32" y="240.40" width="13.16" height="2.60" fill="#ebe7d6"/>
<rect x="464.48" y="241.50" width="13.16" height="1.50" fill="#ebe7d6"/>
<rect x="503.96" y="239.70" width="13.16" height="1.30" fill="#ebe7d6"/>
<rect x="464.48" y="247.50" width="13.16" height="1.50" fill="#ebe7d6"/>
<rect x="477.64" y="244.00" width="39.48" height="17.70" fill="#ebe7d6"/>
<rect x="517.12" y="246.00" width="13.16" height="1.50" fill="#ebe7d6"/>
<rect x="517.12" y="264.20" width="13.16" height="1.10" fill="#ebe7d6"/>
<rect x="451.32" y="270.70" width="26.32" height="2.10" fill="#ebe7d6"/>
<rect x="582.92" y="241.50" width="13.16" height="1.50" fill="#ebe7d6"/>
<rect x="596.08" y="239.60" width="13.16" height="1.40" fill="#ebe7d6"/>
<rect x="596.08" y="246.00" width="13.16" height="1.00" fill="#ebe7d6"/>
<rect x="622.40" y="238.40" width="13.16" height="1.60" fill="#ebe7d6"/>
<rect x="622.40" y="242.20" width="13.16" height="1.80" fill="#ebe7d6"/>
<rect x="609.24" y="241.50" width="13.16" height="1.50" fill="#ebe7d6"/>
<rect x="609.24" y="244.00" width="13.16" height="3.50" fill="#ebe7d6"/>
<rect x="530.28" y="245.50" width="52.64" height="1.50" fill="#ebe7d6"/>
<rect x="596.08" y="261.10" width="13.16" height="2.60" fill="#ebe7d6"/>
<rect x="530.28" y="263.80" width="26.32" height="1.40" fill="#ebe7d6"/>
<rect x="425.00" y="289.60" width="13.16" height="1.70" fill="#ebe7d6"/>
<rect x="438.16" y="289.20" width="13.16" height="1.60" fill="#ebe7d6"/>
<rect x="451.32" y="288.60" width="13.16" height="1.60" fill="#ebe7d6"/>
<rect x="477.64" y="286.80" width="39.48" height="2.00" fill="#ebe7d6"/>
<rect x="622.40" y="284.50" width="13.16" height="2.80" fill="#ebe7d6"/>
<rect x="622.40" y="316.30" width="13.16" height="1.50" fill="#ebe7d6"/>
<rect x="517.12" y="318.60" width="13.16" height="1.50" fill="#ebe7d6"/>
<rect x="425.00" y="322.00" width="13.16" height="1.90" fill="#ebe7d6"/>
<rect x="438.16" y="321.20" width="13.16" height="1.60" fill="#ebe7d6"/>
<rect x="451.32" y="320.40" width="13.16" height="1.60" fill="#ebe7d6"/>
<rect x="464.48" y="319.60" width="13.16" height="1.60" fill="#ebe7d6"/>
<rect x="530.28" y="318.00" width="26.32" height="2.00" fill="#ebe7d6"/>
<rect x="425.00" y="336.00" width="13.16" height="1.80" fill="#ebe7d6"/>
<rect x="451.32" y="334.80" width="13.16" height="1.50" fill="#ebe7d6"/>
<rect x="425.00" y="362.40" width="13.16" height="1.90" fill="#ebe7d6"/>
<rect x="451.32" y="361.30" width="13.16" height="1.50" fill="#ebe7d6"/>
<rect x="464.48" y="360.10" width="13.16" height="1.50" fill="#ebe7d6"/>
<rect x="477.64" y="358.30" width="39.48" height="1.80" fill="#ebe7d6"/>
<rect x="438.16" y="431.20" width="13.16" height="1.80" fill="#ebe7d6"/>
<rect x="451.32" y="430.70" width="13.16" height="1.70" fill="#ebe7d6"/>
<rect x="477.64" y="428.50" width="39.48" height="3.00" fill="#ebe7d6"/>
<rect x="451.32" y="440.30" width="13.16" height="2.50" fill="#ebe7d6"/>
<rect x="464.48" y="439.20" width="52.64" height="1.80" fill="#ebe7d6"/>
<rect x="477.64" y="443.20" width="39.48" height="2.50" fill="#ebe7d6"/>
<rect x="425.00" y="444.20" width="13.16" height="1.30" fill="#ebe7d6"/>
<rect x="425.00" y="446.00" width="13.16" height="1.00" fill="#ebe7d6"/>
<rect x="425.00" y="451.30" width="13.16" height="1.60" fill="#ebe7d6"/>
<rect x="425.00" y="457.60" width="13.16" height="1.70" fill="#ebe7d6"/>
<rect x="451.32" y="451.50" width="13.16" height="2.70" fill="#ebe7d6"/>
<rect x="477.64" y="446.90" width="39.48" height="12.40" fill="#ebe7d6"/>
<rect x="517.12" y="446.90" width="13.16" height="1.40" fill="#ebe7d6"/>
<rect x="582.92" y="427.30" width="13.16" height="1.70" fill="#ebe7d6"/>
<rect x="609.24" y="427.30" width="13.16" height="1.70" fill="#ebe7d6"/>
<rect x="622.40" y="429.80" width="13.16" height="1.80" fill="#ebe7d6"/>
<rect x="596.08" y="439.00" width="13.16" height="2.00" fill="#ebe7d6"/>
<rect x="543.44" y="439.50" width="13.16" height="1.50" fill="#ebe7d6"/>
<rect x="556.60" y="440.20" width="26.32" height="6.00" fill="#ebe7d6"/>
<rect x="530.28" y="447.40" width="26.32" height="1.80" fill="#ebe7d6"/>
<rect x="609.24" y="443.20" width="13.16" height="16.10" fill="#ebe7d6"/>
<rect x="596.08" y="457.40" width="13.16" height="1.90" fill="#ebe7d6"/>
<rect x="477.64" y="195" width="13.16" height="0.8" fill="#f27472" opacity="0.35"/>
<rect x="477.64" y="198.8" width="13.16" height="0.8" fill="#f27472" opacity="0.35"/>
<rect x="477.64" y="203.3" width="13.16" height="0.8" fill="#f27472" opacity="0.35"/>
<rect x="477.64" y="212.2" width="13.16" height="0.8" fill="#f27472" opacity="0.35"/>
<rect x="490.80" y="247.2" width="26.32" height="0.9" fill="#f27472" opacity="0.4"/>
<rect x="477.64" y="251.8" width="26.32" height="0.9" fill="#f27472" opacity="0.4"/>
<rect x="490.80" y="256.6" width="26.32" height="1.1" fill="#f27472" opacity="0.7"/>
<rect x="640.00" y="80.80" width="26.80" height="378.50" fill="#ebe7d6"/>
<rect x="640" y="80.8" width="13.40" height="1.00" fill="#f27472" opacity="1"/>
<rect x="640" y="113.9" width="13.40" height="1.00" fill="#f27472" opacity="1"/>
<rect x="640" y="117.8" width="13.40" height="2.50" fill="#f27472" opacity="1"/>
<rect x="640" y="232.8" width="13.40" height="0.80" fill="#f27472" opacity="0.5"/>
<rect x="640" y="244.2" width="13.40" height="1.70" fill="#f27472" opacity="1"/>
<rect x="640" y="263.8" width="13.40" height="0.80" fill="#f27472" opacity="0.5"/>
<rect x="640" y="274.4" width="13.40" height="1.20" fill="#f27472" opacity="1"/>
<rect x="640" y="290.4" width="13.40" height="0.80" fill="#f27472" opacity="0.5"/>
<rect x="640" y="335.6" width="13.40" height="1.40" fill="#f27472" opacity="1"/>
<rect x="640" y="341.5" width="13.40" height="6.20" fill="#f27472" opacity="1"/>
<rect x="640" y="360.5" width="13.40" height="1.00" fill="#f27472" opacity="1"/>
<rect x="640" y="435.8" width="13.40" height="1.40" fill="#f27472" opacity="1"/>
<rect x="640" y="448.6" width="13.40" height="1.70" fill="#f27472" opacity="1"/>
<rect x="640" y="452" width="13.40" height="0.80" fill="#f27472" opacity="0.8"/>
<rect x="640" y="458" width="13.40" height="1.00" fill="#f27472" opacity="0.8"/>
<rect x="653.4" y="275.8" width="13.40" height="0.70" fill="#f27472" opacity="0.5"/>
<rect x="653.4" y="288.8" width="13.40" height="0.70" fill="#f27472" opacity="0.5"/>
<rect x="653.4" y="335.6" width="13.40" height="0.60" fill="#f27472" opacity="0.5"/>
<rect x="653.4" y="348.4" width="13.40" height="5.20" fill="#f27472" opacity="1"/>
<rect x="653.4" y="363" width="13.40" height="0.80" fill="#f27472" opacity="0.8"/>
<rect x="653.4" y="452" width="13.40" height="0.60" fill="#f27472" opacity="0.5"/>
<rect x="672.00" y="78.70" width="25.80" height="380.40" fill="#8dbde3"/>
<rect x="672.00" y="78.70" width="13.00" height="4.40" fill="#78aedc"/>
<rect x="672.00" y="83.10" width="13.00" height="0.90" fill="#6aa5d8"/>
<rect x="672.00" y="94.10" width="13.00" height="22.70" fill="#3f86c4"/>
<rect x="672.00" y="141.00" width="13.00" height="5.20" fill="#3f86c4"/>
<rect x="672.00" y="146.20" width="13.00" height="9.70" fill="#7db2de"/>
<rect x="672.00" y="155.90" width="13.00" height="1.30" fill="#6aa5d8"/>
<rect x="672.00" y="164.30" width="13.00" height="9.10" fill="#3f86c4"/>
<rect x="672.00" y="187.00" width="13.00" height="1.30" fill="#6aa5d8"/>
<rect x="672.00" y="189.90" width="13.00" height="2.60" fill="#ffffff"/>
<rect x="672.00" y="194.40" width="13.00" height="1.30" fill="#6aa5d8"/>
<rect x="672.00" y="195.70" width="13.00" height="13.00" fill="#3f86c4"/>
<rect x="672.00" y="231.40" width="13.00" height="1.30" fill="#6aa5d8"/>
<rect x="672.00" y="248.40" width="13.00" height="9.10" fill="#3f86c4"/>
<rect x="672.00" y="273.00" width="13.00" height="65.10" fill="#3f86c4"/>
<rect x="672.00" y="433.50" width="13.00" height="6.60" fill="#ffffff"/>
<rect x="672.00" y="440.10" width="13.00" height="4.70" fill="#4f8fcc"/>
<rect x="672.00" y="446.00" width="13.00" height="1.80" fill="#b8d8f0"/>
<rect x="672.00" y="448.40" width="13.00" height="4.70" fill="#3f86c4"/>
<rect x="672.00" y="453.10" width="13.00" height="1.90" fill="#6aa5d8"/>
<rect x="685.00" y="78.70" width="12.80" height="3.80" fill="#3f86c4"/>
<rect x="685.00" y="87.90" width="12.80" height="2.40" fill="#3f86c4"/>
<rect x="685.00" y="95.40" width="12.80" height="1.30" fill="#6aa5d8"/>
<rect x="685.00" y="112.30" width="12.80" height="4.10" fill="#ffffff"/>
<rect x="685.00" y="118.10" width="12.80" height="3.30" fill="#3f86c4"/>
<rect x="685.00" y="141.00" width="12.80" height="3.30" fill="#3f86c4"/>
<rect x="685.00" y="144.30" width="12.80" height="3.80" fill="#b0d4f0"/>
<rect x="685.00" y="148.10" width="12.80" height="3.30" fill="#3f86c4"/>
<rect x="685.00" y="164.30" width="12.80" height="3.30" fill="#3f86c4"/>
<rect x="685.00" y="167.60" width="12.80" height="3.90" fill="#6aa5d8"/>
<rect x="685.00" y="171.50" width="12.80" height="1.90" fill="#c8e4f7"/>
<rect x="685.00" y="195.70" width="12.80" height="2.00" fill="#6aa5d8"/>
<rect x="685.00" y="202.80" width="12.80" height="5.90" fill="#ffffff"/>
<rect x="685.00" y="231.40" width="12.80" height="1.30" fill="#6aa5d8"/>
<rect x="685.00" y="243.70" width="12.80" height="2.10" fill="#6aa5d8"/>
<rect x="685.00" y="248.40" width="12.80" height="3.30" fill="#3f86c4"/>
<rect x="685.00" y="255.50" width="12.80" height="2.60" fill="#b8d8f0"/>
<rect x="685.00" y="261.40" width="12.80" height="3.20" fill="#3f86c4"/>
<rect x="685.00" y="273.00" width="12.80" height="18.20" fill="#3f86c4"/>
<rect x="685.00" y="323.20" width="12.80" height="14.30" fill="#ffffff"/>
<rect x="685.00" y="340.70" width="12.80" height="23.00" fill="#3f86c4"/>
<rect x="685.00" y="434.10" width="12.80" height="3.00" fill="#3f86c4"/>
<rect x="685.00" y="448.40" width="12.80" height="4.70" fill="#3f86c4"/>
<rect x="685.00" y="457.50" width="12.80" height="1.60" fill="#6aa5d8"/>
<rect x="408.20" y="78.60" width="11.70" height="8.60" fill="#6cbf4a"/>
<rect x="408.20" y="87.20" width="11.70" height="52.80" fill="#c6b4da"/>
<rect x="408.20" y="140.00" width="11.70" height="9.40" fill="#9a9aa2"/>
<rect x="408.20" y="149.40" width="11.70" height="4.30" fill="#b3ad98"/>
<rect x="408.20" y="153.70" width="11.70" height="6.90" fill="#c6d83e"/>
<rect x="408.20" y="160.60" width="11.70" height="3.40" fill="#93c057"/>
<rect x="408.20" y="164.00" width="11.70" height="28.60" fill="#1f48a8"/>
<rect x="408.20" y="192.60" width="11.70" height="38.00" fill="#8fbbe3"/>
<rect x="408.20" y="230.60" width="11.70" height="13.30" fill="#5bc3cf"/>
<rect x="408.20" y="243.90" width="11.70" height="4.00" fill="#c0283a"/>
<rect x="408.20" y="247.90" width="11.70" height="12.90" fill="#7d4aa8"/>
<rect x="408.20" y="260.80" width="11.70" height="181.40" fill="#a897cc"/>
<rect x="408.20" y="442.20" width="11.70" height="4.80" fill="#6e6a3a"/>
<rect x="408.20" y="447.00" width="11.70" height="12.30" fill="#a2a3a2"/>
<rect x="424.7" y="28.3" width="210.5" height="1.3" fill="#555"/>
<rect x="640.2" y="28.3" width="26.6" height="1.3" fill="#555"/>
<rect x="672" y="28.3" width="26.4" height="1.3" fill="#555"/>
<text x="521" y="19.5" font-size="10.3" font-family="Liberation Serif" fill="#222">LEV</text>
<text x="644.7" y="19.5" font-size="10.1" font-family="Liberation Serif" fill="#222">SXT</text>
<text x="676.3" y="19.5" font-size="10.1" font-family="Liberation Serif" fill="#222">AST</text>
<text x="378" y="19.6" font-size="30" font-family="Liberation Serif" fill="#111">C</text>
<text transform="translate(436.28,78.1) rotate(-90) scale(0.5)" font-size="20.5" stroke="#333" stroke-width="0.45" font-family="Liberation Serif" fill="#222">SME_gyrA</text>
<text transform="translate(449.44,78.1) rotate(-90) scale(0.5)" font-size="20.5" stroke="#333" stroke-width="0.45" font-family="Liberation Serif" fill="#222">SME_gyrB</text>
<text transform="translate(462.60,78.1) rotate(-90) scale(0.5)" font-size="20.5" stroke="#333" stroke-width="0.45" font-family="Liberation Serif" fill="#222">SME_parC</text>
<text transform="translate(475.76,78.1) rotate(-90) scale(0.5)" font-size="20.5" stroke="#333" stroke-width="0.45" font-family="Liberation Serif" fill="#222">SME_parE</text>
<text transform="translate(488.92,78.1) rotate(-90) scale(0.5)" font-size="20.5" stroke="#333" stroke-width="0.45" font-family="Liberation Serif" fill="#222">smeA</text>
<text transform="translate(502.08,78.1) rotate(-90) scale(0.5)" font-size="20.5" stroke="#333" stroke-width="0.45" font-family="Liberation Serif" fill="#222">smeB</text>
<text transform="translate(515.24,78.1) rotate(-90) scale(0.5)" font-size="20.5" stroke="#333" stroke-width="0.45" font-family="Liberation Serif" fill="#222">smeC</text>
<text transform="translate(528.40,78.1) rotate(-90) scale(0.5)" font-size="20.5" stroke="#333" stroke-width="0.45" font-family="Liberation Serif" fill="#222">smeD</text>
<text transform="translate(541.56,78.1) rotate(-90) scale(0.5)" font-size="20.5" stroke="#333" stroke-width="0.45" font-family="Liberation Serif" fill="#222">smeE</text>
<text transform="translate(554.72,78.1) rotate(-90) scale(0.5)" font-size="20.5" stroke="#333" stroke-width="0.45" font-family="Liberation Serif" fill="#222">smeF</text>
<text transform="translate(567.88,78.1) rotate(-90) scale(0.5)" font-size="20.5" stroke="#333" stroke-width="0.45" font-family="Liberation Serif" fill="#222">smeO</text>
<text transform="translate(581.04,78.1) rotate(-90) scale(0.5)" font-size="20.5" stroke="#333" stroke-width="0.45" font-family="Liberation Serif" fill="#222">smeP</text>
<text transform="translate(594.20,78.1) rotate(-90) scale(0.5)" font-size="20.5" stroke="#333" stroke-width="0.45" font-family="Liberation Serif" fill="#222">smeRv</text>
<text transform="translate(607.36,78.1) rotate(-90) scale(0.5)" font-size="20.5" stroke="#333" stroke-width="0.45" font-family="Liberation Serif" fill="#222">smeT</text>
<text transform="translate(620.52,78.1) rotate(-90) scale(0.5)" font-size="20.5" stroke="#333" stroke-width="0.45" font-family="Liberation Serif" fill="#222">smeU2</text>
<text transform="translate(633.68,78.1) rotate(-90) scale(0.5)" font-size="20.5" stroke="#333" stroke-width="0.45" font-family="Liberation Serif" fill="#222">smqnrR</text>
<text transform="translate(651.40,78.1) rotate(-90) scale(0.5)" font-size="20.5" stroke="#333" stroke-width="0.45" font-family="Liberation Serif" fill="#222">sul1</text>
<text transform="translate(664.80,78.1) rotate(-90) scale(0.5)" font-size="20.5" stroke="#333" stroke-width="0.45" font-family="Liberation Serif" fill="#222">sul2</text>
<text transform="translate(683.20,78.1) rotate(-90) scale(0.5)" font-size="20.5" stroke="#333" stroke-width="0.45" font-family="Liberation Serif" fill="#222">LEV</text>
<text transform="translate(696.20,78.1) rotate(-90) scale(0.5)" font-size="20.5" stroke="#333" stroke-width="0.45" font-family="Liberation Serif" fill="#222">SXT</text>
<text transform="translate(417.4,77.6) rotate(-90) scale(0.5)" font-size="20.5" stroke="#333" stroke-width="0.45" font-family="Liberation Serif" fill="#222">lineage</text>
<text x="715.6" y="78.6" font-size="4.6" font-weight="bold" font-family="Liberation Sans" fill="#222">lineage</text>
<rect x="716.20" y="80.70" width="7.40" height="6.65" fill="#b39ad6"/>
<text x="724.8" y="85.60" font-size="4.6" font-family="Liberation Sans" fill="#444">Sm10</text>
<rect x="716.20" y="87.35" width="7.40" height="6.65" fill="#7e52b4"/>
<text x="724.8" y="92.25" font-size="4.6" font-family="Liberation Sans" fill="#444">Sm6</text>
<rect x="716.20" y="94.00" width="7.40" height="6.65" fill="#66c043"/>
<text x="724.8" y="98.90" font-size="4.6" font-family="Liberation Sans" fill="#444">Sgn4</text>
<rect x="716.20" y="100.65" width="7.40" height="6.65" fill="#8fc3ef"/>
<text x="724.8" y="105.55" font-size="4.6" font-family="Liberation Sans" fill="#444">Sm3</text>
<rect x="716.20" y="107.30" width="7.40" height="6.65" fill="#1c3f9e"/>
<text x="724.8" y="112.20" font-size="4.6" font-family="Liberation Sans" fill="#444">Sm2</text>
<rect x="716.20" y="113.95" width="7.40" height="6.65" fill="#c23be0"/>
<text x="724.8" y="118.85" font-size="4.6" font-family="Liberation Sans" fill="#444">Sm9</text>
<rect x="716.20" y="120.60" width="7.40" height="6.65" fill="#7847a8"/>
<text x="724.8" y="125.50" font-size="4.6" font-family="Liberation Sans" fill="#444">Sm5</text>
<rect x="716.20" y="127.25" width="7.40" height="6.65" fill="#5cc5d3"/>
<text x="724.8" y="132.15" font-size="4.6" font-family="Liberation Sans" fill="#444">Sm4a</text>
<rect x="716.20" y="133.90" width="7.40" height="6.65" fill="#cc1020"/>
<text x="724.8" y="138.80" font-size="4.6" font-family="Liberation Sans" fill="#444">Sm12</text>
<rect x="716.20" y="140.55" width="7.40" height="6.65" fill="#b8469a"/>
<text x="724.8" y="145.45" font-size="4.6" font-family="Liberation Sans" fill="#444">Sm13</text>
<rect x="716.20" y="147.20" width="7.40" height="6.65" fill="#4a8a45"/>
<text x="724.8" y="152.10" font-size="4.6" font-family="Liberation Sans" fill="#444">Sm18</text>
<rect x="716.20" y="153.85" width="7.40" height="6.65" fill="#b8cc35"/>
<text x="724.8" y="158.75" font-size="4.6" font-family="Liberation Sans" fill="#444">Sm17</text>
<rect x="716.20" y="160.50" width="7.40" height="6.65" fill="#5c5c35"/>
<text x="724.8" y="165.40" font-size="4.6" font-family="Liberation Sans" fill="#444">Sm8</text>
<rect x="716.20" y="167.15" width="7.40" height="6.65" fill="#cfe4f2"/>
<text x="724.8" y="172.05" font-size="4.6" font-family="Liberation Sans" fill="#444">Sm4b</text>
<rect x="716.20" y="173.80" width="7.40" height="6.65" fill="#8a5a2e"/>
<text x="724.8" y="178.70" font-size="4.6" font-family="Liberation Sans" fill="#444">Sm7</text>
<rect x="716.20" y="180.45" width="7.40" height="6.65" fill="#6ec04e"/>
<text x="724.8" y="185.35" font-size="4.6" font-family="Liberation Sans" fill="#444">Sm14</text>
<rect x="716.20" y="187.10" width="7.40" height="6.65" fill="#d8f4f4"/>
<text x="724.8" y="192.00" font-size="4.6" font-family="Liberation Sans" fill="#444">Sm16</text>
<rect x="716.20" y="193.75" width="7.40" height="6.65" fill="#f6c6d2"/>
<text x="724.8" y="198.65" font-size="4.6" font-family="Liberation Sans" fill="#444">Sm15</text>
<text x="716" y="219.5" font-size="5.2" font-weight="bold" font-family="Liberation Sans" fill="#222">AST</text>
<rect x="716.60" y="222.00" width="7.40" height="9.50" fill="#3f86c4"/>
<text x="726" y="228.50" font-size="5.5" font-family="Liberation Sans" fill="#444">R</text>
<rect x="716.60" y="231.50" width="7.40" height="9.50" fill="#6aa5d8"/>
<text x="726" y="238.00" font-size="5.5" font-family="Liberation Sans" fill="#444">I</text>
<rect x="716.60" y="241.00" width="7.40" height="9.50" fill="#8dbde3"/>
<text x="726" y="247.50" font-size="5.5" font-family="Liberation Sans" fill="#444">S</text>
</g>
</svg>
</body></html>
